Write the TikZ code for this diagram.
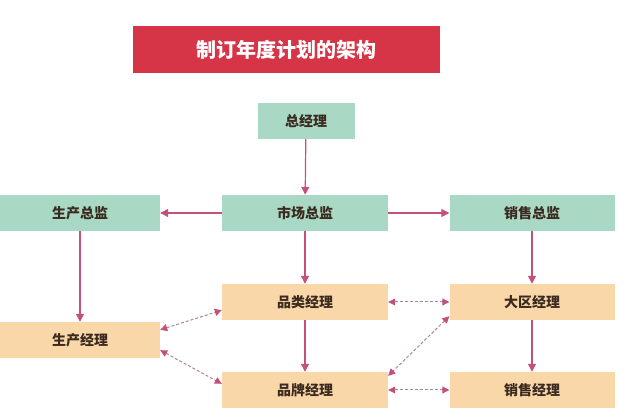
\documentclass[tikz,border=0pt]{standalone}
\usepackage{fontspec}
\newfontfamily\cjk{Noto Sans CJK SC}
\usetikzlibrary{arrows.meta}
\definecolor{boxgreen}{HTML}{A9D9C4}
\definecolor{boxorange}{HTML}{FAD7A8}
\definecolor{titlered}{HTML}{D63447}
\definecolor{linkpink}{HTML}{C4507C}
\definecolor{dashgray}{HTML}{A88894}
\definecolor{labelink}{HTML}{3A2A20}
\tikzset{
  post/.style={minimum height=36pt,inner sep=0pt,text=labelink,font=\cjk\bfseries\fontsize{14}{16}\selectfont},
  boss/.style={post,fill=boxgreen},
  mgr/.style={post,fill=boxorange},
  order/.style={-{Triangle[length=8pt,width=8pt]},linkpink,line width=1.2pt},
  peer/.style={{Triangle[length=7pt,width=7pt,color=linkpink]}-{Triangle[length=7pt,width=7pt,color=linkpink]},dashgray,densely dashed,line width=1pt}
}
\begin{document}
\begin{tikzpicture}[x=1pt,y=-1pt]
  \useasboundingbox (0,0) rectangle (640,419);
  %title
  \node[fill=titlered,text=white,minimum width=307pt,minimum height=47pt,font=\cjk\bfseries\fontsize{20}{22}\selectfont] (title) at (286,50) {制订年度计划的架构};
  %bosses
  \node[boss,minimum width=97pt] (gm) at (306,121) {总经理};
  \node[boss,minimum width=160pt] (prodDir) at (80,213) {生产总监};
  \node[boss,minimum width=166pt] (mktDir) at (305,213) {市场总监};
  \node[boss,minimum width=165pt] (saleDir) at (532,213) {销售总监};
  %managers
  \node[mgr,minimum width=166pt] (catMgr) at (305,302) {品类经理};
  \node[mgr,minimum width=165pt] (areaMgr) at (532,302) {大区经理};
  \node[mgr,minimum width=160pt] (prodMgr) at (80,340) {生产经理};
  \node[mgr,minimum width=166pt] (brandMgr) at (305,390) {品牌经理};
  \node[mgr,minimum width=165pt] (saleMgr) at (532,390) {销售经理};
  %reporting lines
  \draw[order] (gm) -- (mktDir);
  \draw[order] (mktDir) -- (prodDir);
  \draw[order] (mktDir) -- (saleDir);
  \draw[order] (prodDir) -- (prodMgr);
  \draw[order] (mktDir) -- (catMgr);
  \draw[order] (catMgr) -- (brandMgr);
  \draw[order] (saleDir) -- (areaMgr);
  \draw[order] (areaMgr) -- (saleMgr);
  %cooperation
  \draw[peer] ([yshift=-8pt]prodMgr.north east) -- ([yshift=10pt]catMgr.south west);
  \draw[peer] ([yshift=8pt]prodMgr.south east) -- ([yshift=-12pt]brandMgr.north west);
  \draw[peer] (catMgr) -- (areaMgr);
  \draw[peer] ([yshift=4pt]areaMgr.south west) -- ([yshift=-4pt]brandMgr.north east);
  \draw[peer] (brandMgr) -- (saleMgr);
\end{tikzpicture}
\end{document}
